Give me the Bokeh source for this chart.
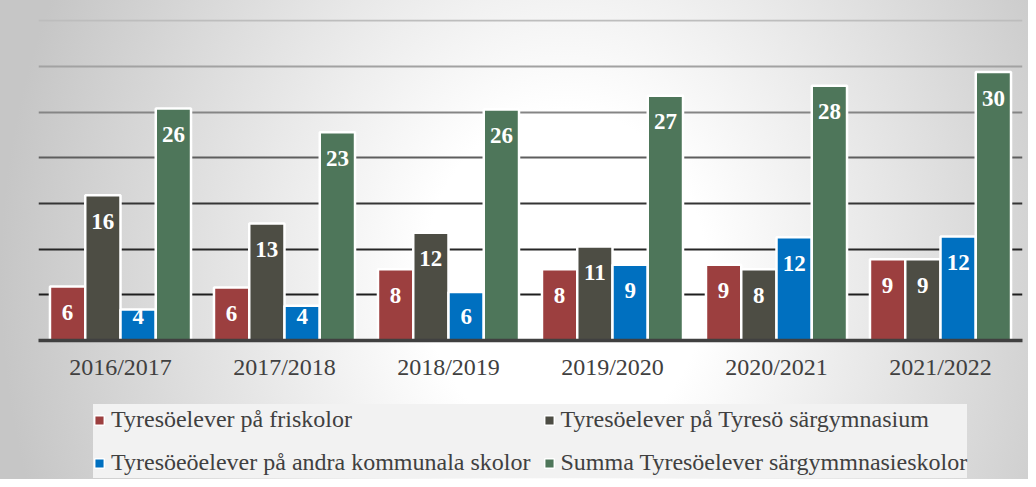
from bokeh.plotting import figure
from bokeh.models import ColumnDataSource, FactorRange, Range1d, Legend, LegendItem
from bokeh.layouts import column
from bokeh.transform import dodge
from bokeh.core.properties import value
from bokeh.embed import file_html
from bokeh.resources import INLINE

# ---------------- data ----------------
years = ["2016/2017", "2017/2018", "2018/2019", "2019/2020", "2020/2021", "2021/2022"]
series_names = [
    "Tyresöelever på friskolor",
    "Tyresöelever på Tyresö särgymnasium",
    "Tyresöeöelever på andra kommunala skolor",
    "Summa Tyresöelever särgymmnasieskolor",
]
friskolor = [5.9, 5.8, 7.8, 7.8, 8.3, 8.9]
sargymnasium = [15.9, 12.8, 11.8, 10.3, 7.8, 8.9]
andra_kommunala = [3.4, 3.8, 5.3, 8.3, 11.3, 11.4]
summa = [25.4, 22.8, 25.3, 26.8, 27.9, 29.4]
labels_friskolor = ["6", "6", "8", "8", "9", "9"]
labels_sargymnasium = ["16", "13", "12", "11", "8", "9"]
labels_andra_kommunala = ["4", "4", "6", "9", "12", "12"]
labels_summa = ["26", "23", "26", "27", "28", "30"]
grid_values = [5, 10, 15, 20, 25, 30, 35]

# ---------------- style ----------------
colors = ["#9c3f3f", "#4d4d44", "#0070c0", "#4e765a"]
offsets = [-0.3225, -0.1075, 0.1075, 0.3225]
bar_w = 0.215
grid_colors = ["#1e1e1e", "#262626", "#353535", "#5e5e5e", "#858585", "#a2a2a2", "#bdbdbd"]
FONT = "Liberation Serif"
W = 1028

p = figure(
    x_range=FactorRange(*years, range_padding=0),
    y_range=Range1d(0, 35.15),
    width=W, height=392,
    output_backend="svg", toolbar_location=None,
    min_border_left=38, min_border_right=6, min_border_top=19, min_border_bottom=52,
)
p.background_fill_alpha = 0
p.border_fill_alpha = 0
p.outline_line_color = None
p.xgrid.visible = False
p.ygrid.visible = False
p.yaxis.visible = False

# gridlines (under the bars)
p.hspan(y=grid_values, line_color=grid_colors, line_width=2)

# legend strip (separate figure; its bar renderers are hidden, only the legend shows)
lg = figure(
    width=W, height=87, x_range=FactorRange(*years), y_range=Range1d(0, 35),
    output_backend="svg", toolbar_location=None,
    x_axis_type=None, y_axis_type=None,
    min_border_left=0, min_border_right=0, min_border_top=0, min_border_bottom=0,
)
lg.background_fill_alpha = 0
lg.border_fill_alpha = 0
lg.outline_line_color = None
lg.xgrid.visible = False
lg.ygrid.visible = False

all_vals = [friskolor, sargymnasium, andra_kommunala, summa]
all_labels = [labels_friskolor, labels_sargymnasium, labels_andra_kommunala, labels_summa]
rends = []
for name, vals, labs, col, off in zip(series_names, all_vals, all_labels, colors, offsets):
    src = ColumnDataSource(dict(
        year=years, v=vals, label=labs,
        ly=[max(v - 2.85, 2.65) for v in vals],
    ))
    p.vbar(x=dodge("year", off, range=p.x_range), top="v", width=bar_w, source=src,
           fill_color=col, line_color="white", line_width=2.5)
    p.text(x=dodge("year", off, range=p.x_range), y="ly", text="label", source=src,
           text_color="white", text_font=value(FONT), text_font_style="bold",
           text_font_size="23px", text_align="center", text_baseline="middle")
    r = lg.vbar(x=dodge("year", off, range=lg.x_range), top="v", width=bar_w, source=src,
                fill_color=col, line_color="white", line_width=1.5)
    r.visible = False
    rends.append((name, r))

ax = p.xaxis[0]
ax.axis_line_color = "#404040"
ax.axis_line_width = 3.5
ax.major_tick_line_color = None
ax.minor_tick_line_color = None
ax.major_tick_out = 0
ax.major_label_standoff = 13
ax.major_label_text_font = FONT
ax.major_label_text_font_size = "24px"
ax.major_label_text_color = "#404040"

# column-major fill: order so rows read red/dark, blue/green
order = [0, 2, 1, 3]
items = [LegendItem(label=rends[i][0], renderers=[rends[i][1]]) for i in order]
legend = Legend(items=items, ncols=2, location=(55, 1),
                label_text_font=FONT, label_text_font_size="24px", label_text_color="#404040",
                glyph_width=12, glyph_height=12, label_standoff=6, label_height=31,
                inactive_fill_alpha=0,
                background_fill_color="#f2f2f2", background_fill_alpha=1,
                border_line_color=None, padding=7, spacing=12, margin=0)
lg.add_layout(legend)

layout = column(p, lg, spacing=0, styles={
    "background": "radial-gradient(ellipse 55% 140% at 55% 58%, #ffffff 0%, #ffffff 25%, #c6c6c6 100%)"
})

open("out.html", "w").write(file_html(layout, INLINE))
